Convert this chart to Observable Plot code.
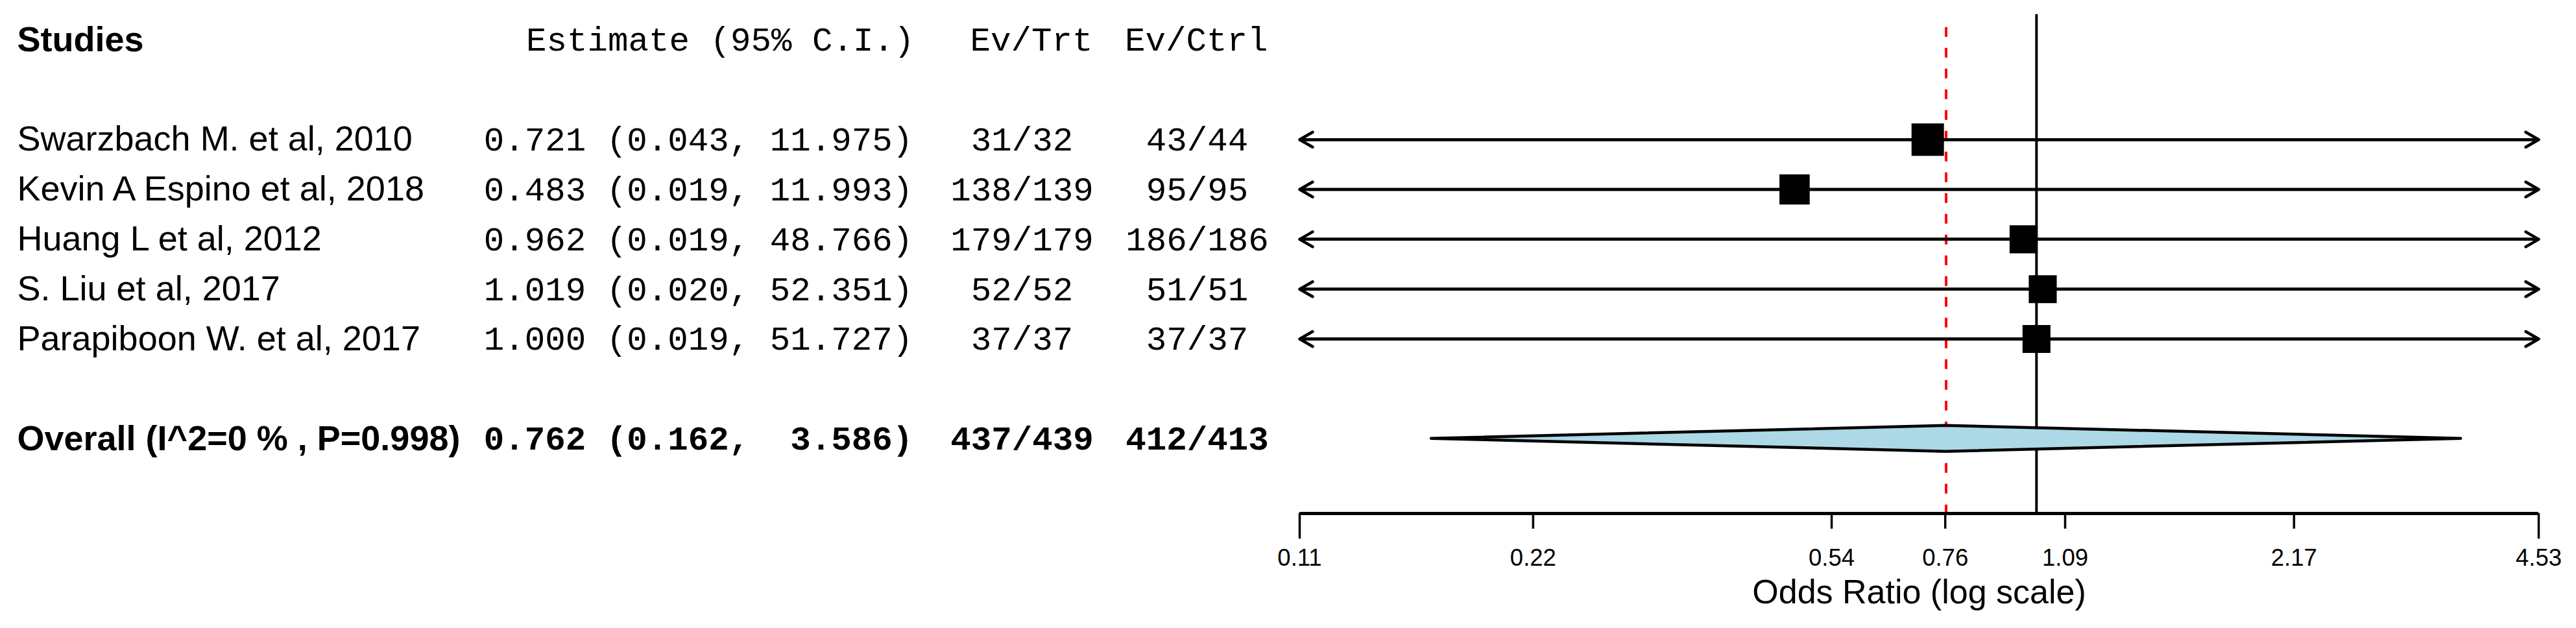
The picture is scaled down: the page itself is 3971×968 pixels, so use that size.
<!DOCTYPE html>
<html>
<head>
<meta charset="utf-8">
<script src="https://cdn.jsdelivr.net/npm/d3@7"></script>
<script src="https://cdn.jsdelivr.net/npm/@observablehq/plot@0.6"></script>
<style>
  html, body { margin: 0; padding: 0; background: #fff; }
</style>
</head>
<body>
<div id="chart"></div>
<script>
// ---------- data ----------
const studies = [
  "Swarzbach M. et al, 2010",
  "Kevin A Espino et al, 2018",
  "Huang L et al, 2012",
  "S. Liu et al, 2017",
  "Parapiboon W. et al, 2017"
];
const estimates = [0.721, 0.483, 0.962, 1.019, 1.000];
const lowerCI   = [0.043, 0.019, 0.019, 0.020, 0.019];
const upperCI   = [11.975, 11.993, 48.766, 52.351, 51.727];
const evTrt     = ["31/32", "138/139", "179/179", "52/52", "37/37"];
const evCtrl    = ["43/44", "95/95", "186/186", "51/51", "37/37"];

const overallLabel = "Overall (I^2=0 % , P=0.998)";
const overallEst = 0.762;
const overallLower = 0.162;
const overallUpper = 3.586;
const overallTrt = "437/439";
const overallCtrl = "412/413";

const headers = ["Studies", "Estimate (95% C.I.)", "Ev/Trt", "Ev/Ctrl"];

const xDomain = [0.109, 4.53];
const tickValues = [0.109, 0.22, 0.54, 0.76, 1.09, 2.17, 4.53];
const tickLabels = ["0.11", "0.22", "0.54", "0.76", "1.09", "2.17", "4.53"];
const axisTitle = "Odds Ratio (log scale)";

// ---------- derived table ----------
const z = 1.96;
const rows = studies.map((name, i) => {
  const se = (Math.log(upperCI[i]) - Math.log(lowerCI[i])) / (2 * z);
  return {name, est: estimates[i], lo: lowerCI[i], hi: upperCI[i],
          trt: evTrt[i], ctrl: evCtrl[i], row: i + 2, w: 1 / (se * se)};
});
const wSum = d3.sum(rows, d => d.w);
rows.forEach(d => d.weight = 100 * d.w / wSum);

const overall = {name: overallLabel, est: overallEst, lo: overallLower, hi: overallUpper,
                 trt: overallTrt, ctrl: overallCtrl, row: 8};

const fmtCI = d => `${d.est.toFixed(3)} (${d.lo.toFixed(3)}, ${d.hi.toFixed(3).padStart(6, "\u00A0")})`;

const [xmin, xmax] = xDomain;
const axisRow = 9.5;
const headerRow = 0;
const dH = 0.26; // diamond half-height (rows)
const diamond = [
  {x: overall.lo, y1: overall.row, y2: overall.row},
  {x: overall.est, y1: overall.row - dH, y2: overall.row + dH},
  {x: overall.hi, y1: overall.row, y2: overall.row}
];

const SANS = "'Liberation Sans', Arial, Helvetica, sans-serif";
const MONO = "'Liberation Mono', 'Courier New', Courier, monospace";
const sansSize = 54, monoSize = 52.5;
const colName = 26, colCI = 1076, colCIHead = 1409, colTrt = 1575, colTrtHead = 1684, colCtrl = 1845, colCtrlHead = 1954;

const ciW = 4.5;
const headLen = 23 * 1.5 / ciW;
const lastTick = tickValues.length - 1;

const chart = Plot.plot({
  width: 3971,
  height: 968,
  marginLeft: 0, marginRight: 0, marginTop: 0, marginBottom: 0,
  style: {fontFamily: SANS, background: "#fff", overflow: "visible"},
  x: {type: "log", domain: xDomain, range: [2003, 3913], axis: null},
  y: {type: "linear", domain: [0, axisRow], range: [61, 791], axis: null},
  r: {type: "linear", domain: d3.extent(rows, d => d.weight), range: [24.3, 28.2]},
  marks: [
    // reference line at 1 and dashed overall line
    Plot.ruleX([1], {x: d => d, y1: () => -0.51, y2: () => axisRow, stroke: "black", strokeWidth: 4}),
    Plot.ruleX([overall.est], {x: d => d, y1: () => -0.25, y2: () => axisRow, stroke: "red", strokeWidth: 4, strokeDasharray: "15,17"}),
    // CI lines (clipped to axis)
    Plot.ruleY(rows, {y: "row", x1: d => Math.max(d.lo, xmin), x2: d => Math.min(d.hi, xmax), stroke: "black", strokeWidth: ciW}),
    Plot.arrow(rows.filter(d => d.lo < xmin), {x1: "est", x2: () => xmin, y1: "row", y2: "row",
      stroke: "black", strokeWidth: ciW, headLength: headLen, headAngle: 60, strokeLinecap: "round", strokeLinejoin: "round"}),
    Plot.arrow(rows.filter(d => d.hi > xmax), {x1: "est", x2: () => xmax, y1: "row", y2: "row",
      stroke: "black", strokeWidth: ciW, headLength: headLen, headAngle: 60, strokeLinecap: "round", strokeLinejoin: "round"}),
    // study squares
    Plot.dot(rows, {x: "est", y: "row", r: "weight", symbol: "square", fill: "black", stroke: "none"}),
    // overall diamond
    Plot.areaY(diamond, {x: "x", y1: "y1", y2: "y2", fill: "#ADD8E6", stroke: "black", strokeWidth: 4.5, curve: "linear"}),

    // header
    Plot.text([headers[0]], {y: () => headerRow, text: d => d, frameAnchor: "left", dx: colName, textAnchor: "start",
      fontFamily: SANS, fontSize: sansSize, fontWeight: "bold"}),
    Plot.text([headers[1]], {y: () => headerRow, text: d => d, frameAnchor: "left", dx: colCIHead, textAnchor: "end",
      fontFamily: MONO, fontSize: monoSize}),
    Plot.text([headers[2]], {y: () => headerRow, text: d => d, frameAnchor: "left", dx: colTrtHead, textAnchor: "end",
      fontFamily: MONO, fontSize: monoSize}),
    Plot.text([headers[3]], {y: () => headerRow, text: d => d, frameAnchor: "left", dx: colCtrlHead, textAnchor: "end",
      fontFamily: MONO, fontSize: monoSize}),

    // study rows
    Plot.text(rows, {y: "row", text: "name", frameAnchor: "left", dx: colName, textAnchor: "start",
      fontFamily: SANS, fontSize: sansSize}),
    Plot.text(rows, {y: "row", text: fmtCI, frameAnchor: "left", dx: colCI, textAnchor: "middle",
      fontFamily: MONO, fontSize: monoSize}),
    Plot.text(rows, {y: "row", text: "trt", frameAnchor: "left", dx: colTrt, textAnchor: "middle",
      fontFamily: MONO, fontSize: monoSize}),
    Plot.text(rows, {y: "row", text: "ctrl", frameAnchor: "left", dx: colCtrl, textAnchor: "middle",
      fontFamily: MONO, fontSize: monoSize}),

    // overall row
    Plot.text([overall], {y: "row", text: "name", frameAnchor: "left", dx: colName, textAnchor: "start",
      fontFamily: SANS, fontSize: sansSize, fontWeight: "bold"}),
    Plot.text([overall], {y: "row", text: fmtCI, frameAnchor: "left", dx: colCI, textAnchor: "middle",
      fontFamily: MONO, fontSize: monoSize, fontWeight: "bold"}),
    Plot.text([overall], {y: "row", text: "trt", frameAnchor: "left", dx: colTrt, textAnchor: "middle",
      fontFamily: MONO, fontSize: monoSize, fontWeight: "bold"}),
    Plot.text([overall], {y: "row", text: "ctrl", frameAnchor: "left", dx: colCtrl, textAnchor: "middle",
      fontFamily: MONO, fontSize: monoSize, fontWeight: "bold"}),

    // x axis
    Plot.ruleY([axisRow], {y: d => d, x1: () => xmin, x2: () => xmax, stroke: "black", strokeWidth: 5}),
    Plot.ruleX(tickValues, {x: d => d, y1: () => axisRow,
      y2: (d, i) => axisRow + (i === 0 || i === lastTick ? 0.51 : 0.31), stroke: "black", strokeWidth: 3.5}),
    Plot.text(tickValues, {x: d => d, y: () => axisRow, dy: 69, text: (d, i) => tickLabels[i],
      fontFamily: SANS, fontSize: 36.5}),
    Plot.text([axisTitle], {x: () => Math.sqrt(xmin * xmax), y: () => axisRow, dy: 122, text: d => d,
      fontFamily: SANS, fontSize: 52})
  ]
});
document.getElementById("chart").appendChild(chart);
</script>
</body>
</html>
